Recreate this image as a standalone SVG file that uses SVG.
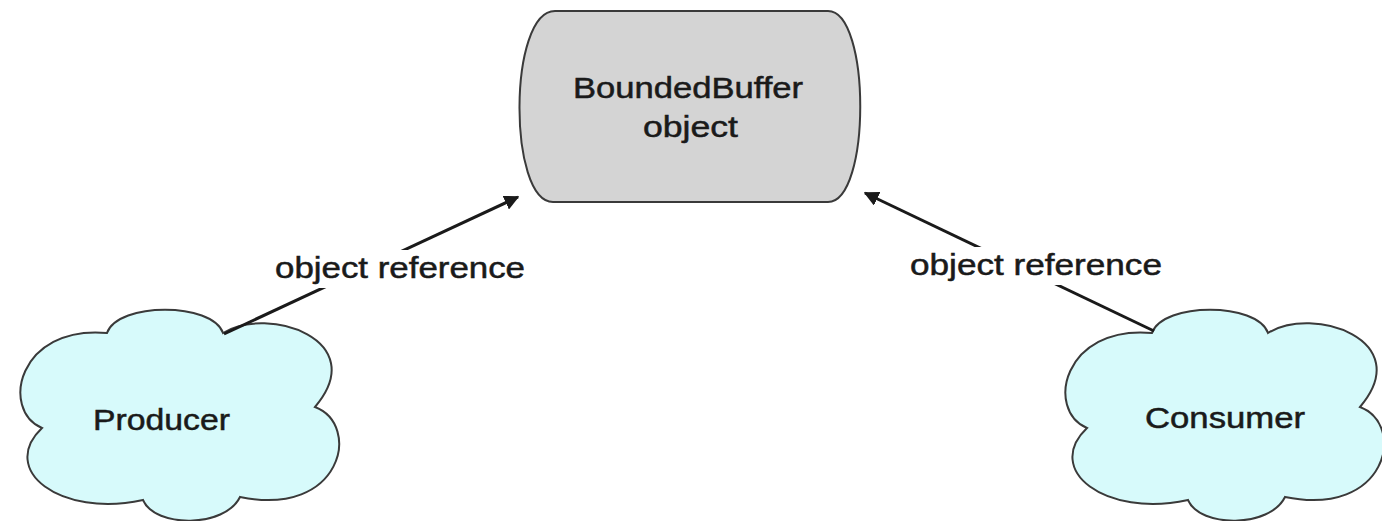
<svg xmlns="http://www.w3.org/2000/svg" width="1382" height="521" viewBox="0 0 1382 521">
<style>
.lbl{font-family:"Liberation Sans",Arial,sans-serif;font-size:29px;fill:#1a1a1a;stroke:#1a1a1a;stroke-width:0.5}
.cloud{fill:#d7fafb;stroke:#3a3a3a;stroke-width:2}
.conn{stroke:#1a1a1a;stroke-width:3;fill:none}
</style>
<defs>
<marker id="ah" viewBox="0 0 10 10" refX="9" refY="5" markerWidth="5" markerHeight="5" orient="auto" markerUnits="strokeWidth">
<path d="M0,0 L10,5 L0,10 Z" fill="#1a1a1a"/>
</marker>
<path id="cloudShape" d="M42,428 C0,410 18,325 107,333 C118,302 212,302 223,333 C268,305 372,340 315,407 C362,425 342,518 240,497 C225,528 155,528 143,500 C60,518 -2,470 42,428 Z"/>
</defs>
<rect width="1382" height="521" fill="#ffffff"/>
<g id="buffer">
<path d="M555,11 H828 C871,11 871,202 828,202 H553 C508,202 508,11 555,11 Z" fill="#d4d4d4" stroke="#3a3a3a" stroke-width="2"/>
<text class="lbl" x="573" y="98" textLength="230" lengthAdjust="spacingAndGlyphs">BoundedBuffer</text>
<text class="lbl" x="643" y="137" textLength="95" lengthAdjust="spacingAndGlyphs">object</text>
</g>
<g id="producer">
<use href="#cloudShape" class="cloud"/>
<text class="lbl" x="93" y="430" textLength="137" lengthAdjust="spacingAndGlyphs">Producer</text>
</g>
<g id="consumer">
<use href="#cloudShape" class="cloud" transform="translate(1045,0)"/>
<text class="lbl" x="1145" y="428" textLength="160" lengthAdjust="spacingAndGlyphs">Consumer</text>
</g>
<g id="connectors">
<line class="conn" x1="224" y1="334" x2="518" y2="197" marker-end="url(#ah)"/>
<line class="conn" x1="1154" y1="331" x2="865" y2="193" marker-end="url(#ah)"/>
<rect x="270" y="250" width="262" height="38" fill="#ffffff"/>
<rect x="905" y="247" width="262" height="38" fill="#ffffff"/>
<text class="lbl" x="275" y="278" textLength="250" lengthAdjust="spacingAndGlyphs">object reference</text>
<text class="lbl" x="910" y="275" textLength="252" lengthAdjust="spacingAndGlyphs">object reference</text>
</g>
</svg>
